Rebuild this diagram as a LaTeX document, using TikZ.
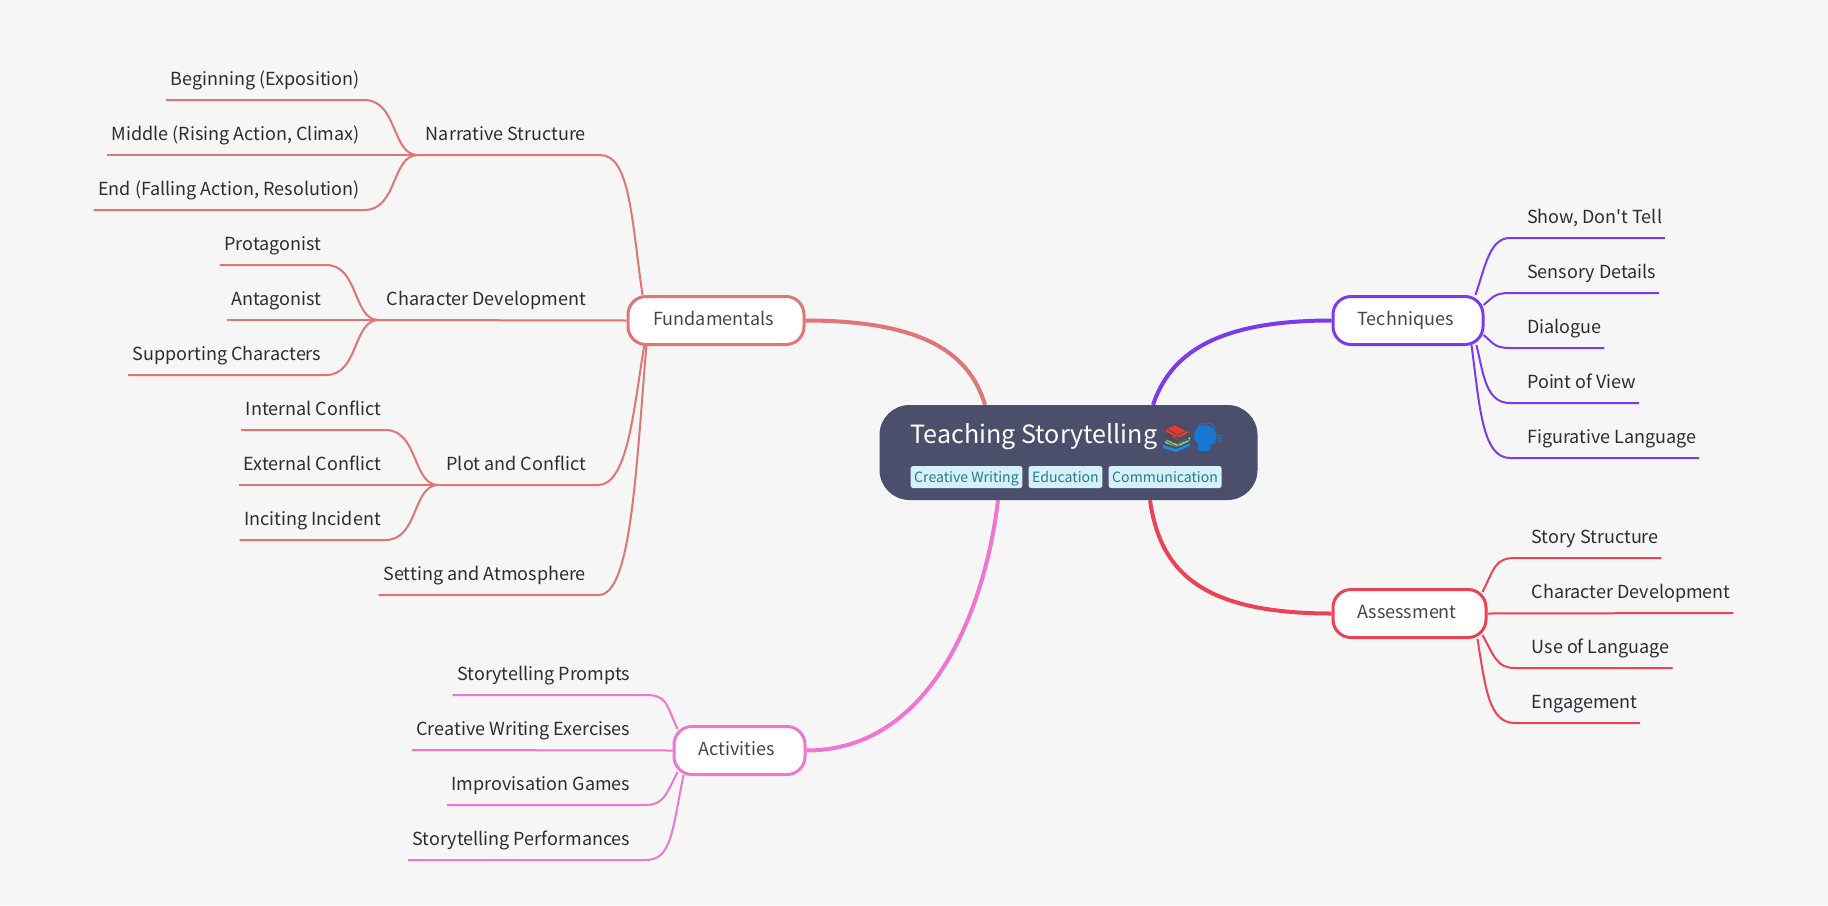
\documentclass[tikz,border=0pt]{standalone}
\usepackage{fontspec}
\setmainfont{Noto Sans CJK SC}
\newfontfamily\plainfont{Noto Sans CJK SC}
\newfontfamily\emojifont{Noto Emoji}
\definecolor{bgc}{HTML}{F6F6F7}
\definecolor{fundc}{HTML}{E07575}
\definecolor{techc}{HTML}{7C3AED}
\definecolor{assc}{HTML}{EA4355}
\definecolor{actc}{HTML}{EE76D0}
\definecolor{rootc}{HTML}{4C4F6B}
\definecolor{tagbg}{HTML}{D4F0F8}
\definecolor{tagfg}{HTML}{2A7A90}
\definecolor{txt}{HTML}{2C2D30}
\definecolor{boxtxt}{HTML}{464646}
\definecolor{bookred}{HTML}{E53935}
\definecolor{bookgreen}{HTML}{81C784}
\definecolor{bookblue}{HTML}{1E88E5}
\definecolor{headblue}{HTML}{1976D2}
\pgfdeclarelayer{bg}
\pgfdeclarelayer{conn}
\pgfsetlayers{bg,conn,main}
\tikzset{
  x=1pt,y=1pt,
  rootbox/.style={rounded corners=30pt,fill=rootc,minimum width=378pt,minimum height=95pt,inner sep=0pt},
  maintitle/.style={text=white,font=\fontsize{25.1}{30}\selectfont,inner sep=0pt,anchor=base west},
  emojinode/.style={font=\fontsize{25}{30}\emojifont,inner sep=0pt,anchor=base west},
  tagnode/.style={fill=tagbg,text=tagfg,rounded corners=2.5pt,font=\fontsize{14.1}{17}\selectfont,inner xsep=3.6pt,inner ysep=0pt,text height=16pt,text depth=6pt,anchor=base west},
  mainbox/.style={draw=#1,line width=3pt,fill=white,rounded corners=18pt,inner sep=0pt,minimum height=48pt,text=boxtxt,font=\fontsize{18}{22}\selectfont,text height=13pt,text depth=3pt,execute at begin node={\hspace*{-5pt}}},
  item/.style={text=txt,font=\fontsize{18}{22}\selectfont,inner ysep=5pt,text height=14pt,text depth=9pt},
  leafl/.style={item,anchor=south east,inner xsep=4.5pt},
  leafr/.style={item,anchor=south west,inner xsep=2.5pt},
  branchl/.style={item,anchor=south east,inner xsep=8pt},
  thick link/.style={line width=4pt},
  thin link/.style={line width=2pt},
}
\begin{document}
\begin{tikzpicture}
\useasboundingbox (0,0) rectangle (1828,-905);
\begin{pgfonlayer}{bg}
\fill[bgc] (0,0) rectangle (1828,-905);
\end{pgfonlayer}
% root
\node[rootbox] (root) at (1068.5,-452.5) {};
\node[maintitle] (title) at (910.5,-443) {Teaching Storytelling};
% colour underlay of the two emoji
\fill[bookred] (1163,-431) -- (1175,-425) -- (1190,-432) -- (1177,-440) -- cycle;
\fill[bookgreen] (1165,-439) -- (1177,-444) -- (1190,-437) -- (1190,-441) -- (1177,-447) -- (1165,-443) -- cycle;
\fill[bookblue] (1163,-445) -- (1176,-449) -- (1190,-443) -- (1190,-446) -- (1176,-452) -- (1163,-448) -- cycle;
\fill[headblue] (1205,-436) circle (11);
\fill[headblue] (1198,-440) rectangle (1210,-451);
\node[emojinode,text=black!70] (books) at (1161,-444) {📚};
\node[emojinode,text=headblue] (head) at (1193,-444) {🗣};
\node[tagnode] (tag1) at (910.4,-482) {Creative Writing};
\node[tagnode] (tag2) at (1028.4,-482) {Education};
\node[tagnode] (tag3) at (1108.4,-482) {Communication};
% main topics
\node[mainbox=fundc,minimum width=176pt] (fund) at (716,-320.5) {Fundamentals};
\node[mainbox=techc,minimum width=150pt] (tech) at (1408,-320.5) {Techniques};
\node[mainbox=assc,minimum width=153pt] (ass) at (1409.5,-613.5) {Assessment};
\node[mainbox=actc,minimum width=131pt] (act) at (739.5,-750.5) {Activities};
% fundamentals branches
\node[branchl] (narr) at (594,-155) {Narrative Structure};
\node[branchl] (char) at (594,-320) {Character Development};
\node[branchl] (plot) at (594,-485) {Plot and Conflict};
\node[leafl] (sett) at (590.5,-595) {Setting and Atmosphere};
% leaves
\node[leafl] (n1) at (364.5,-100) {Beginning (Exposition)};
\node[leafl] (n2) at (364.5,-155) {Middle (Rising Action, Climax)};
\node[leafl] (n3) at (364.5,-210) {End (Falling Action, Resolution)};
\node[leafl] (c1) at (326,-265) {Protagonist};
\node[leafl] (c2) at (326,-320) {Antagonist};
\node[leafl] (c3) at (326,-375) {Supporting Characters};
\node[leafl] (p1) at (385.5,-430) {Internal Conflict};
\node[leafl] (p2) at (385.5,-485) {External Conflict};
\node[leafl] (p3) at (385.5,-540) {Inciting Incident};
\node[leafl] (a1) at (635,-695) {Storytelling Prompts};
\node[leafl] (a2) at (635,-750) {Creative Writing Exercises};
\node[leafl] (a3) at (635,-805) {Improvisation Games};
\node[leafl] (a4) at (635,-860) {Storytelling Performances};
\node[leafr] (t1) at (1524.5,-238) {{\plainfont Show, Don't Tell}};
\node[leafr] (t2) at (1524.5,-293) {Sensory Details};
\node[leafr] (t3) at (1524.5,-348) {Dialogue};
\node[leafr] (t4) at (1524.5,-403) {Point of View};
\node[leafr] (t5) at (1524.5,-458) {Figurative Language};
\node[leafr] (s1) at (1529,-558) {Story Structure};
\node[leafr] (s2) at (1529,-613) {Character Development};
\node[leafr] (s3) at (1529,-668) {Use of Language};
\node[leafr] (s4) at (1529,-723) {Engagement};
\begin{pgfonlayer}{conn}
% root links
\draw[thick link,fundc] (fund.east) .. controls +(120,0) and +(-15,50) .. ([xshift=-83.5pt]root.north);
\draw[thick link,techc] (tech.west) .. controls +(-117,0) and +(17,50) .. ([xshift=84.5pt]root.north);
\draw[thick link,assc] (ass.west) .. controls +(-132,0) and +(10,-70) .. ([xshift=81.5pt]root.south);
\draw[thick link,actc] (act.east) .. controls +(124,0) and +(-13,-110) .. ([xshift=-70.5pt]root.south);
\begin{scope}[thin link,fundc]
\draw (narr.south west) -- (narr.south east) -- ++(6,0) .. controls +(30,0) and +(-11,76) .. ([xshift=16pt]fund.north west);
\draw (char.south west) -- (fund.west);
\draw (plot.south west) -- (plot.south east) -- ++(4,0) .. controls +(30,0) and +(-11,-65) .. ([shift={(18pt,2pt)}]fund.south west);
\draw (sett.south west) -- (sett.south east) -- ++(8,0) .. controls +(32,0) and +(-11,-135) .. ([shift={(20pt,2pt)}]fund.south west);
\foreach \a/\b in {n1/narr,n3/narr,c1/char,c3/char,p1/plot,p3/plot}{
  \draw (\a.south west) -- (\a.south east) .. controls +(33,0) and +(-26,0) .. (\b.south west);
}
\foreach \a/\b in {n2/narr,c2/char,p2/plot}{
  \draw (\a.south west) -- (\b.south west);
}
\end{scope}
\begin{scope}[thin link,actc]
\draw (a1.south west) -- (a1.south east) -- ++(10,0) .. controls +(22,0) and +(-12,26) .. ([shift={(5pt,-4pt)}]act.north west);
\draw (a2.south west) -- (act.west);
\draw (a3.south west) -- (a3.south east) -- ++(10,0) .. controls +(18,0) and +(-12,-24) .. ([shift={(5pt,4pt)}]act.south west);
\draw (a4.south west) -- (a4.south east) -- ++(10,0) .. controls +(26,0) and +(-12,-60) .. ([shift={(11pt,1pt)}]act.south west);
\end{scope}
\begin{scope}[thin link,techc]
\draw (t1.south east) -- (t1.south west) -- ++(-14.5,0) .. controls +(-20,0) and +(10,30) .. ([shift={(-9pt,0pt)}]tech.north east);
\draw (t2.south east) -- (t2.south west) -- ++(-14.5,0) .. controls +(-16,0) and +(10,8) .. ([shift={(-1pt,-10pt)}]tech.north east);
\draw (t3.south east) -- (t3.south west) -- ++(-14.5,0) .. controls +(-16,0) and +(10,-8) .. ([shift={(-1pt,11pt)}]tech.south east);
\draw (t4.south east) -- (t4.south west) -- ++(-14.5,0) .. controls +(-24,0) and +(7,-30) .. ([shift={(-8pt,1pt)}]tech.south east);
\draw (t5.south east) -- (t5.south west) -- ++(-14.5,0) .. controls +(-28,0) and +(8,-60) .. ([shift={(-13pt,1pt)}]tech.south east);
\end{scope}
\begin{scope}[thin link,assc]
\draw (s1.south east) -- (s1.south west) -- ++(-14,0) .. controls +(-20,0) and +(12,24) .. ([shift={(-5pt,-4pt)}]ass.north east);
\draw (s2.south east) -- (ass.east);
\draw (s3.south east) -- (s3.south west) -- ++(-14,0) .. controls +(-18,0) and +(12,-22) .. ([shift={(-5pt,4pt)}]ass.south east);
\draw (s4.south east) -- (s4.south west) -- ++(-14,0) .. controls +(-26,0) and +(8,-50) .. ([shift={(-10pt,0pt)}]ass.south east);
\end{scope}
\end{pgfonlayer}
\end{tikzpicture}
\end{document}
